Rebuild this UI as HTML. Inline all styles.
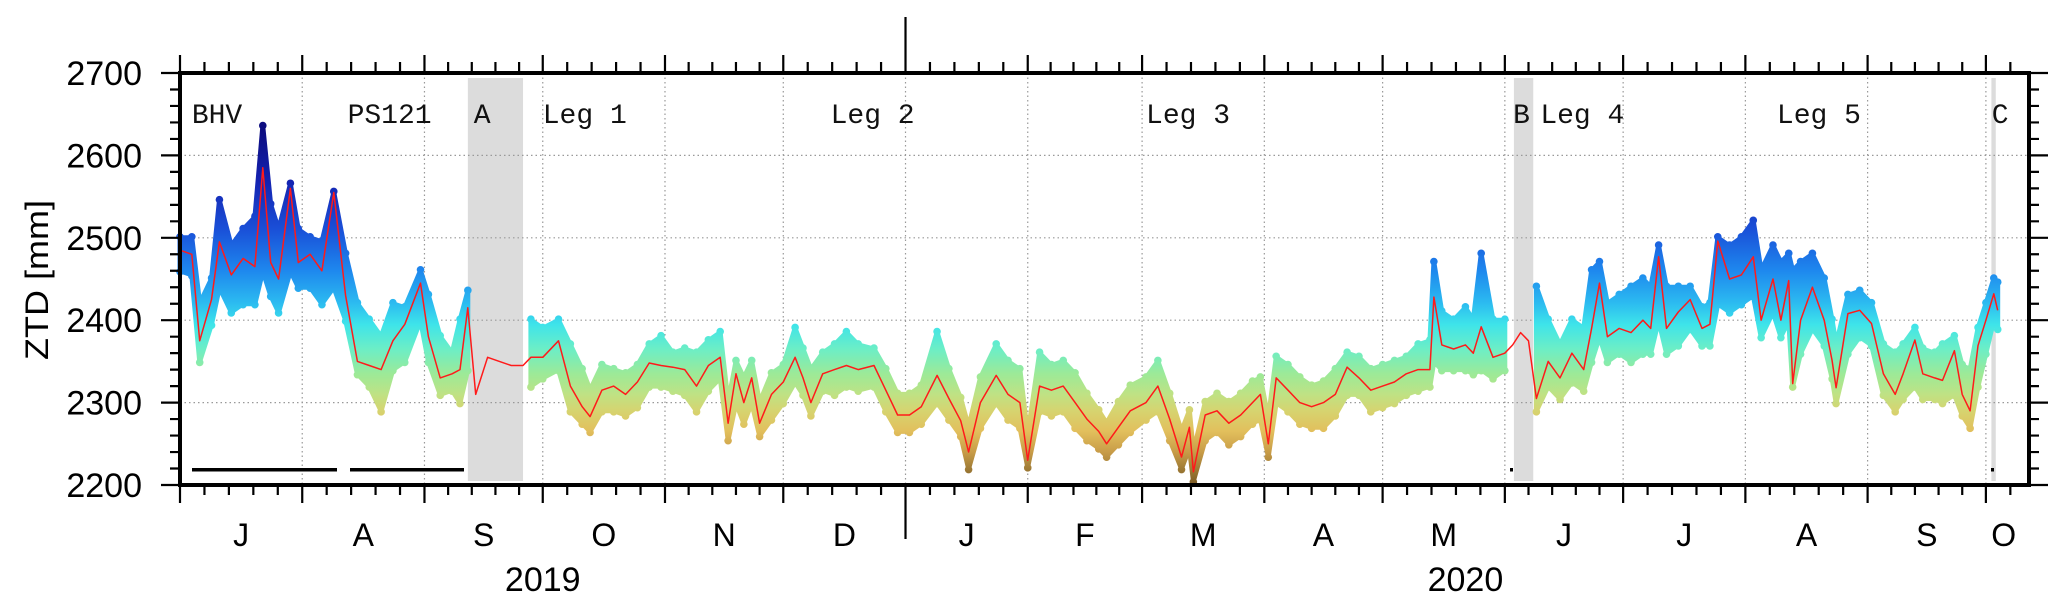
<!DOCTYPE html>
<html><head><meta charset="utf-8"><style>
html,body{margin:0;padding:0;background:#fff;}
svg{display:block;}
.ax{font-family:"Liberation Sans",Arial,sans-serif;fill:#000;}
.mono{font-family:"Liberation Mono","Courier New",monospace;fill:#111;font-size:28px;}
</style></head>
<body>
<svg id="chart" width="2067" height="608" viewBox="0 0 2067 608" xmlns="http://www.w3.org/2000/svg">
<defs>
<linearGradient id="cmap" gradientUnits="userSpaceOnUse" x1="0" x2="0" y1="0" y2="0"></linearGradient>
</defs>
<g id="shades"></g>
<g id="grid"></g>
<g id="scatter"></g>
<g id="line"></g>
<g id="annot"></g>
<g id="axes"></g>
</svg>
<script>
// ---- data (day index from 2019-07-01) ----
const days = [0,3,5,8,10,13,16,19,21,23,25,28,30,33,36,39,42,45,48,51,54,57,61,63,66,69,71,73,75,78,81,84,87,89,92,96,99,102,104,107,110,113,116,119,122,125,128,131,134,137,139,141,143,145,147,150,153,156,158,160,163,166,169,172,176,179,182,185,188,192,195,198,200,203,207,210,213,215,218,221,224,227,230,233,235,238,241,245,248,251,254,256,257,260,263,266,269,272,274,276,278,281,284,287,290,293,296,299,302,305,308,311,314,317,318,320,323,326,328,330,333,336,338,340,342,344,347,350,353,356,358,360,362,365,368,371,373,375,377,380,383,386,388,390,393,396,399,401,404,406,408,409,411,414,417,419,420,423,426,429,432,435,437,440,442,445,447,450,452,454,456,458,460,461];
const median = [2485,2480,2375,2425,2495,2455,2475,2465,2585,2470,2450,2560,2470,2480,2460,2555,2430,2350,2345,2340,2375,2395,2445,2380,2330,2335,2340,2415,2310,2355,2350,2345,2345,2355,2355,2375,2320,2295,2283,2315,2320,2310,2325,2348,2345,2343,2340,2320,2345,2355,2275,2335,2300,2330,2275,2310,2325,2355,2330,2300,2335,2340,2345,2340,2345,2315,2285,2285,2295,2333,2305,2278,2240,2300,2333,2310,2300,2230,2320,2315,2320,2300,2280,2265,2250,2270,2290,2300,2320,2280,2234,2270,2216,2285,2290,2275,2285,2300,2310,2250,2330,2315,2300,2295,2300,2310,2343,2330,2315,2320,2325,2335,2340,2340,2428,2370,2365,2370,2360,2392,2355,2360,2370,2385,2375,2305,2350,2330,2360,2340,2390,2445,2380,2390,2385,2400,2390,2477,2390,2410,2425,2390,2395,2496,2450,2455,2477,2400,2450,2400,2448,2323,2400,2440,2400,2351,2318,2408,2412,2396,2335,2310,2335,2376,2335,2330,2327,2363,2310,2290,2369,2400,2432,2412];
const low = [2460,2455,2350,2395,2440,2410,2420,2420,2460,2430,2410,2460,2440,2440,2420,2440,2400,2335,2320,2290,2340,2350,2400,2350,2310,2315,2300,2340,null,null,null,null,null,2320,2330,2340,2290,2275,2265,2290,2290,2285,2295,2320,2320,2315,2310,2290,2315,2330,2255,2300,2275,2300,2260,2280,2300,2325,2310,2285,2315,2310,2320,2315,2320,2290,2265,2265,2275,2300,2280,2260,2220,2270,2300,2280,2270,2222,2290,2285,2290,2270,2255,2245,2235,2250,2265,2280,2290,2255,2220,2245,2205,2255,2265,2250,2260,2275,2280,2235,2300,2290,2275,2270,2270,2285,2310,2310,2290,2295,2300,2310,2315,2320,2350,2340,2340,2340,2335,2340,2330,2340,null,null,null,2290,2320,2305,2325,2315,2350,2380,2350,2360,2350,2360,2360,2400,2360,2370,2390,2370,2370,2420,2410,2420,2430,2380,2410,2380,2400,2320,2360,2390,2370,2330,2300,2360,2380,2370,2310,2290,2305,2320,2305,2305,2300,2310,2285,2270,2320,2360,2400,2390];
const high = [2500,2500,2420,2450,2545,2490,2510,2525,2635,2540,2510,2565,2510,2500,2495,2555,2480,2420,2400,2380,2420,2415,2460,2430,2380,2360,2400,2435,null,null,null,null,null,2400,2390,2400,2370,2340,2315,2345,2340,2335,2345,2370,2380,2360,2365,2360,2375,2385,2300,2350,2330,2350,2300,2335,2345,2390,2365,2340,2360,2370,2385,2370,2365,2340,2310,2310,2320,2385,2340,2305,2270,2330,2370,2350,2340,2260,2360,2345,2350,2335,2310,2290,2275,2300,2320,2330,2350,2310,2265,2290,2240,2300,2310,2300,2310,2325,2330,2280,2355,2345,2330,2320,2325,2340,2360,2355,2340,2345,2350,2355,2370,2375,2470,2410,2400,2415,2400,2480,2400,2400,null,null,null,2440,2400,2370,2400,2390,2460,2470,2420,2430,2440,2450,2440,2490,2440,2440,2440,2415,2420,2500,2490,2500,2520,2460,2490,2470,2480,2460,2470,2480,2450,2400,2370,2430,2435,2420,2370,2360,2370,2390,2365,2360,2370,2380,2345,2340,2390,2420,2450,2445];
const yTicks = [2200,2300,2400,2500,2600,2700];
const monthLabels = ["J","A","S","O","N","D","J","F","M","A","M","J","J","A","S","O"];
const monthStarts = [0,31,62,92,123,153,184,215,244,275,305,336,366,397,428,458];
const monthLens = [31,31,30,31,30,31,31,29,31,30,31,30,31,31,30,31];
const yearLabels = ["2019","2020"];
const yearCenters = [92,326];
const shadeStart = [73,338.3,459.4];
const shadeEnd = [87,343.2,460.5];
const legNames = ["BHV","PS121","A","Leg 1","Leg 2","Leg 3","B","Leg 4","Leg 5","C"];
const legDays = [3,42.5,74.5,92,165,245,338.1,345,405,459.5];

// ---- scales ----
const X0=180, X1=2029, PX_PER_DAY=3.943;
const Y_TOP=73, Y_BOT=485;
const X = d => X0 + d*PX_PER_DAY;
const Y = v => Y_BOT - (v-2200)*(Y_BOT-Y_TOP)/500;
const NS="http://www.w3.org/2000/svg";
function mk(tag, attrs, parent){const e=document.createElementNS(NS,tag);for(const k in attrs)e.setAttribute(k,attrs[k]);parent.appendChild(e);return e;}

// colormap gradient by value
const grad=document.getElementById('cmap');
grad.setAttribute('y1',Y(2630));grad.setAttribute('y2',Y(2200));
const stops=[[2630,'#0c0c80'],[2570,'#1422b0'],[2510,'#1a50d8'],[2460,'#1e88ee'],[2420,'#2cbcf0'],[2395,'#3ee4ea'],[2365,'#6ceec6'],[2335,'#9cea98'],[2310,'#bfe284'],[2290,'#d6d470'],[2265,'#e2bf5c'],[2240,'#c89c48'],[2220,'#a07c36'],[2200,'#7a5a24']];
stops.forEach(s=>mk('stop',{offset:((2630-s[0])/430).toFixed(4),'stop-color':s[1]},grad));

// shades
const sh=document.getElementById('shades');
shadeStart.forEach((s,i)=>{
  const r=mk('rect',{x:X(s),y:78,width:X(shadeEnd[i])-X(s),height:403,fill:'#dcdcdc'},sh);
  
  
});

// grid
const gr=document.getElementById('grid');
monthStarts.forEach(m=>{ if(m>0){const l=mk('line',{x1:X(m),x2:X(m),y1:Y_TOP,y2:Y_BOT,stroke:'#999','stroke-width':1.2,'stroke-dasharray':'1.5 3'},gr);
  
  }});
yTicks.forEach(v=>{ if(v>2200&&v<2700){const l=mk('line',{x1:X0,x2:X1,y1:Y(v),y2:Y(v),stroke:'#999','stroke-width':1.2,'stroke-dasharray':'1.5 3'},gr);
  
  }});

// scatter band segments + dots
const sc=document.getElementById('scatter');
let seg=[];
const segs=[];
for(let i=0;i<days.length;i++){
  if(low[i]==null){ if(seg.length) segs.push(seg); seg=[]; continue; }
  seg.push(i);
}
if(seg.length) segs.push(seg);
segs.forEach(s=>{
  let d='M'+s.map(i=>X(days[i]).toFixed(1)+','+Y(high[i]).toFixed(1)).join(' L');
  d+=' L'+s.slice().reverse().map(i=>X(days[i]).toFixed(1)+','+Y(low[i]).toFixed(1)).join(' L')+' Z';
  const p=mk('path',{d:d,fill:'url(#cmap)',stroke:'url(#cmap)','stroke-width':5,'stroke-linejoin':'round'},sc);
  
  
});
for(let i=0;i<days.length;i++){
  if(low[i]==null) continue;
  [high[i],low[i]].forEach((v,k)=>{
    const c=mk('circle',{cx:X(days[i]),cy:Y(v)+(k?1:-1),r:3.8,fill:'url(#cmap)'},sc);
    
    
  });
}

// median line
const ln=document.getElementById('line');
const lp=mk('polyline',{points:days.map((d,i)=>X(d).toFixed(1)+','+Y(median[i]).toFixed(1)).join(' '),fill:'none',stroke:'#ff1a1a','stroke-width':1.5,'stroke-linejoin':'round'},ln);



// annotations
const an=document.getElementById('annot');
legNames.forEach((n,i)=>{
  const t=mk('text',{x:X(legDays[i]),y:123,class:'mono'},an);
  t.textContent=n;
  
  
});
[[192,337],[350,464]].forEach(b=>{
  const r=mk('rect',{x:b[0],y:468,width:b[1]-b[0],height:3.5,fill:'#000'},an);
  
  
});
[1510,1991].forEach(x=>{
  const r=mk('rect',{x:x,y:468,width:3,height:3.5,fill:'#000'},an);
  
  
});

// axes
const ax=document.getElementById('axes');
const frame=mk('rect',{x:X0,y:Y_TOP,width:X1-X0,height:Y_BOT-Y_TOP,fill:'none',stroke:'#000','stroke-width':4},ax);


let tp='';
monthStarts.forEach((m,i)=>{
  const x=X(m);
  tp+=`M${x},${Y_TOP}V${Y_TOP-18}M${x},${Y_BOT}V${Y_BOT+18}`;
  for(let k=1;k<5;k++){const xm=X(m+monthLens[i]*k/5); if(xm<X1){tp+=`M${xm},${Y_TOP}V${Y_TOP-11}M${xm},${Y_BOT}V${Y_BOT+10}`;}}
});
tp+=`M${X(184)},17V${Y_TOP}M${X(184)},${Y_BOT}V539`;
for(let v=2200;v<=2700;v+=20){
  const major=(v%100===0);
  const y=Y(v);
  tp+=`M${X0},${y}H${X0-(major?19:10)}M${X1},${y}H${X1+(major?19:10)}`;
}
const tk=mk('path',{d:tp,stroke:'#000','stroke-width':2.2,fill:'none'},ax);


yTicks.forEach(v=>{
  const t=mk('text',{x:142,y:Y(v)+12,'text-anchor':'end','font-size':34,class:'ax'},ax);
  t.textContent=v;
  
  
});
monthLabels.forEach((m,i)=>{
  let c=monthStarts[i]+monthLens[i]/2;
  if(i===monthLabels.length-1) c=monthStarts[i]+4.5;
  const t=mk('text',{x:X(c),y:546,'text-anchor':'middle','font-size':32,class:'ax'},ax);
  t.textContent=m;
  
  
});
yearLabels.forEach((yl,i)=>{
  const t=mk('text',{x:X(yearCenters[i]),y:591,'text-anchor':'middle','font-size':34,class:'ax'},ax);
  t.textContent=yl;
  
  
});
const yt=mk('text',{x:0,y:0,'text-anchor':'middle','font-size':32,class:'ax',transform:'translate(48,280) rotate(-90)',textLength:160,lengthAdjust:'spacingAndGlyphs'},ax);
yt.textContent='ZTD [mm]';


</script>
</body></html>
